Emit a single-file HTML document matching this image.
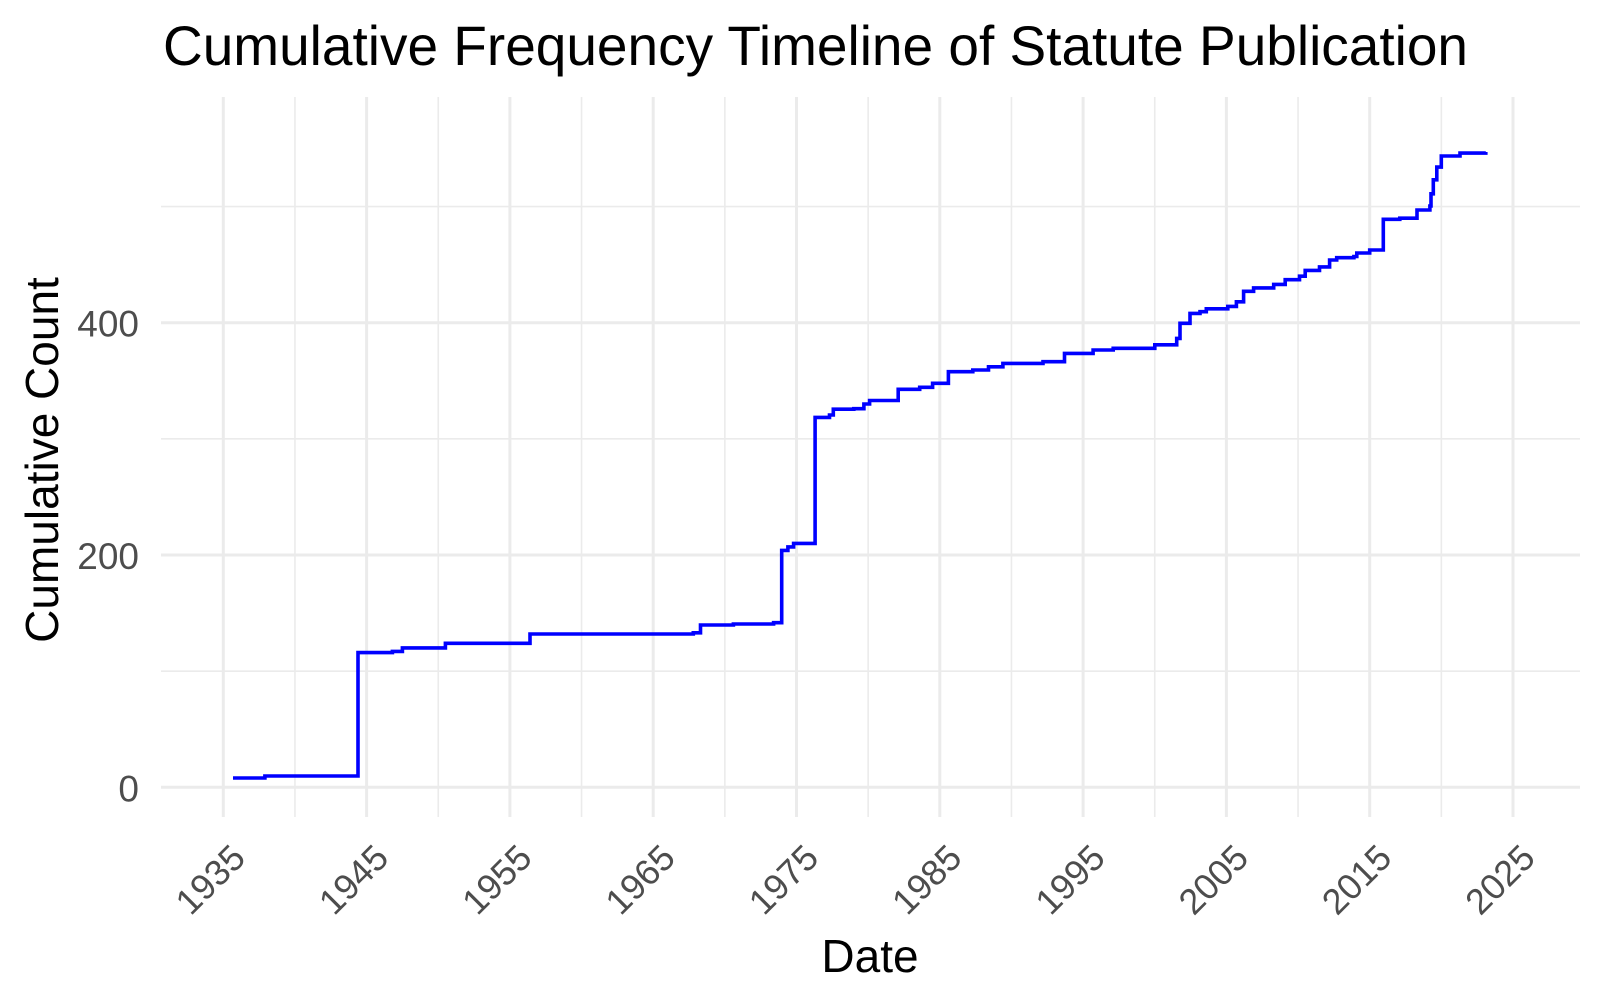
<!DOCTYPE html>
<html><head><meta charset="utf-8"><style>
html,body{margin:0;padding:0;background:#fff;}
svg{display:block;font-family:"Liberation Sans",Arial,sans-serif;}
</style></head><body>
<svg id="chart" width="1600" height="1000" viewBox="0 0 1600 1000" xmlns="http://www.w3.org/2000/svg">
<rect x="0" y="0" width="1600" height="1000" fill="#fff"/>
<g id="grid"></g>
<g id="series"></g>
<g id="xlabels"></g>
<g id="ylabels"></g>
<text x="163" y="65" font-size="56" fill="#000" textLength="1305" lengthAdjust="spacingAndGlyphs">Cumulative Frequency Timeline of Statute Publication</text>
<text x="870" y="972" font-size="46" text-anchor="middle" fill="#000">Date</text>
<text transform="translate(58,460) rotate(-90)" font-size="46" text-anchor="middle" fill="#000">Cumulative Count</text>
</svg>
<script>
const years = [1935.68,1937.9,1944.4,1946.8,1947.5,1950.5,1956.4,1967.8,1968.3,1970.6,1973.4,1973.97,1974.4,1974.8,1976.3,1977.3,1977.57,1979.0,1979.7,1980.1,1982.1,1983.6,1984.5,1985.6,1987.3,1988.4,1989.4,1992.2,1993.7,1995.7,1997.1,2000.0,2001.53,2001.76,2002.46,2003.16,2003.6,2005.1,2005.7,2006.2,2006.9,2008.3,2009.1,2010.1,2010.5,2011.5,2012.2,2012.7,2013.9,2014.1,2015.0,2015.95,2017.1,2018.3,2019.2,2019.28,2019.44,2019.68,2020.0,2021.3,2023.1];
const counts = [8,9.7,116,117,120,124,132,133,139.7,140.6,141.7,204,207,210,318.5,320.5,325.5,326,330,333,342.7,344.4,347.8,357.8,359.3,362,365,366.4,373.6,376.5,378,381,386.5,399.5,408,409.5,412,414,418,427,430,433,437,440,445,448,454,456,457,460,462.6,489,490,497,500.5,511,523,534,543.5,546,547];
const xMajorTicks = [1935,1945,1955,1965,1975,1985,1995,2005,2015,2025];
const xMinorTicks = [1940,1950,1960,1970,1980,1990,2000,2010,2020];
const yMajorTicks = [0,200,400];
const yMinorTicks = [100,300,500];
const yTickLabels = ["0","200","400"];

const NS="http://www.w3.org/2000/svg";
const panel={left:161,right:1580,top:97,bottom:817};
function xScale(yr){return 223.3+(yr-1935)*14.33;}
function yScale(c){return 787.3-c*1.1615;}
function mk(tag,attrs,parent){const e=document.createElementNS(NS,tag);for(const k in attrs)e.setAttribute(k,attrs[k]);parent.appendChild(e);return e;}

const grid=document.getElementById('grid');
yMinorTicks.forEach(v=>{const l=mk('line',{x1:panel.left,x2:panel.right,y1:yScale(v),y2:yScale(v),stroke:'#ebebeb','stroke-width':1.6},grid);

});
xMinorTicks.forEach(v=>{const l=mk('line',{x1:xScale(v),x2:xScale(v),y1:panel.top,y2:panel.bottom,stroke:'#ebebeb','stroke-width':1.6},grid);

});
yMajorTicks.forEach(v=>{const l=mk('line',{x1:panel.left,x2:panel.right,y1:yScale(v),y2:yScale(v),stroke:'#ebebeb','stroke-width':3},grid);

});
xMajorTicks.forEach(v=>{const l=mk('line',{x1:xScale(v),x2:xScale(v),y1:panel.top,y2:panel.bottom,stroke:'#ebebeb','stroke-width':3},grid);

});

let d='M'+xScale(years[0]).toFixed(1)+','+yScale(counts[0]).toFixed(1);
for(let i=1;i<years.length;i++){
  d+=' H'+xScale(years[i]).toFixed(1)+' V'+yScale(counts[i]).toFixed(1);
}
const p=mk('path',{d:d,fill:'none',stroke:'#0000ff','stroke-width':3.6,'stroke-linejoin':'miter'},document.getElementById('series'));



const xl=document.getElementById('xlabels');
xMajorTicks.forEach(v=>{const x=xScale(v)+24,y=860;
const t=mk('text',{x:x,y:y,'font-size':36,fill:'#4d4d4d','text-anchor':'end',transform:'rotate(-45 '+x+' '+y+')'},xl);
t.textContent=String(v);

});
const yl=document.getElementById('ylabels');
yMajorTicks.forEach((v,i)=>{const t=mk('text',{x:139,y:yScale(v)+14,'font-size':37,fill:'#4d4d4d','text-anchor':'end'},yl);
t.textContent=yTickLabels[i];

});
</script>
</body></html>
